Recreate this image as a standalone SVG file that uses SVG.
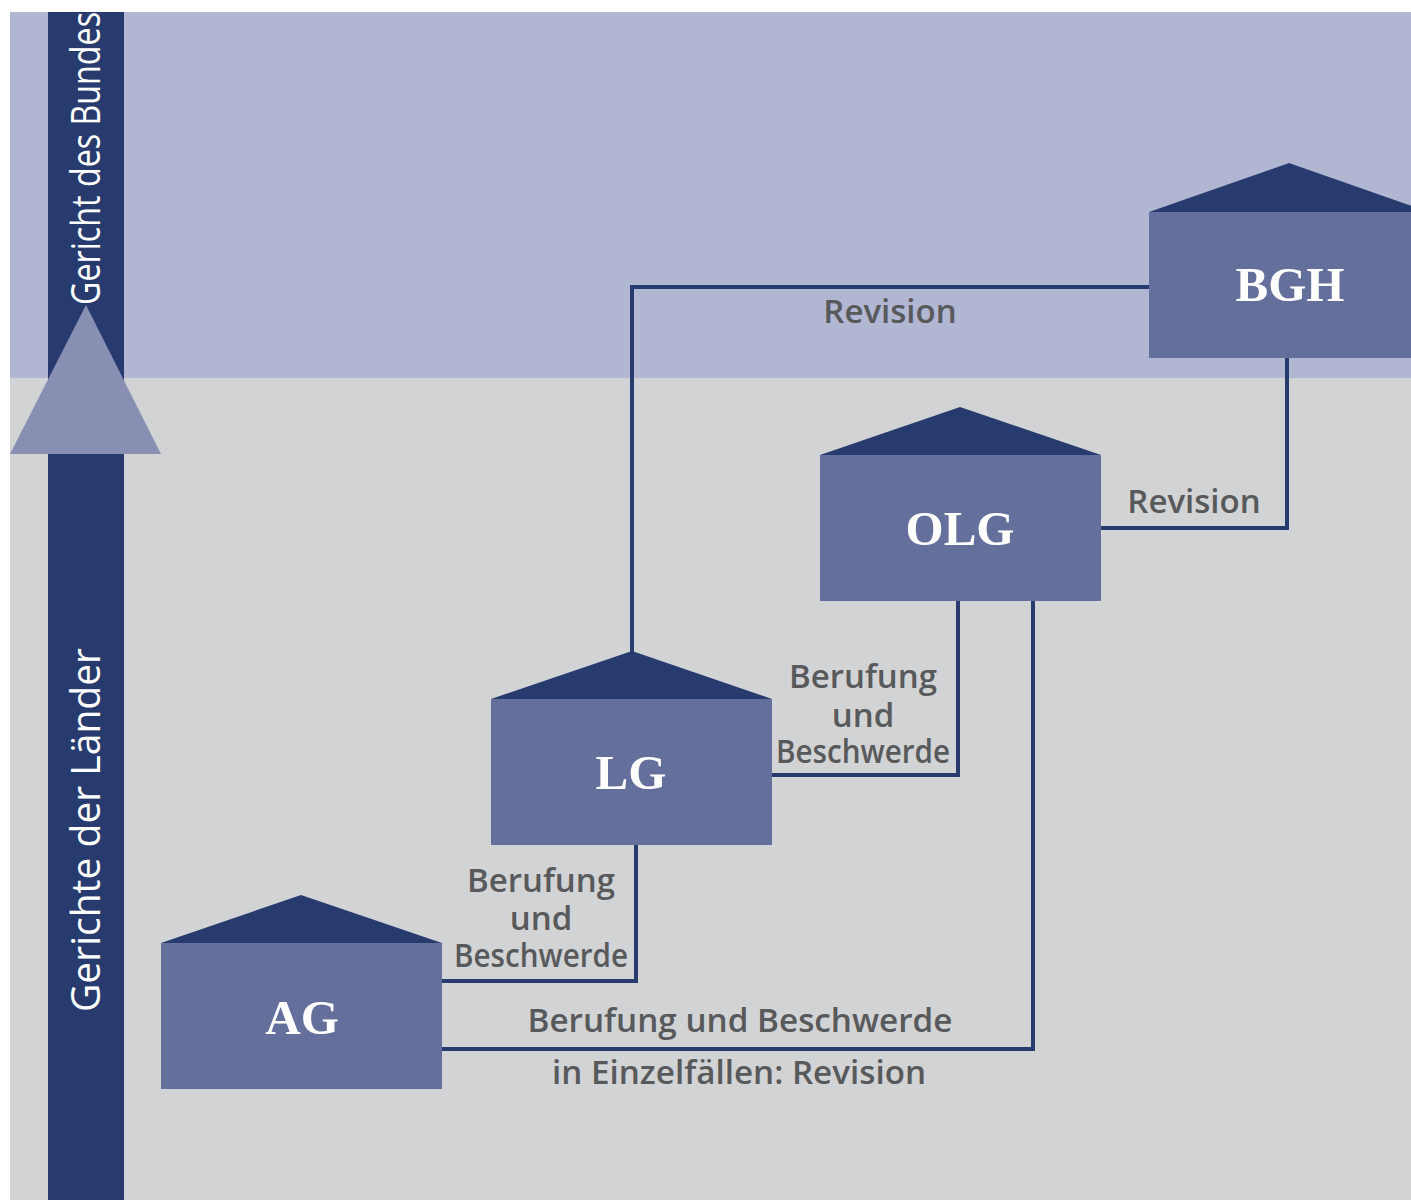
<svg xmlns="http://www.w3.org/2000/svg" width="1411" height="1200" viewBox="0 0 1411 1200">
<defs>
<style>
.roof{fill:#273b6f}
.body{fill:#646f9c}
.nl{font-family:"Liberation Serif","Times New Roman",serif;font-weight:bold;font-size:49px;fill:#ffffff;text-anchor:middle}
.lbl{font-family:"Open Sans","Noto Sans",sans-serif;font-weight:600;font-size:33px;fill:#58595b;text-anchor:middle}
.side{font-family:"Open Sans","Noto Sans",sans-serif;font-weight:400;font-size:40px;fill:#ffffff}
.conn{fill:none;stroke:#273b6f;stroke-width:4}
</style>
<clipPath id="clip"><rect x="10" y="12" width="1401" height="1188"/></clipPath>
</defs>
<rect x="0" y="0" width="1411" height="1200" fill="#ffffff"/>
<g clip-path="url(#clip)">
<rect x="10" y="12" width="1401" height="366" fill="#b1b6d2"/>
<rect x="10" y="378" width="1401" height="822" fill="#d2d3d5"/>
<g id="axis">
<rect x="48" y="12" width="76" height="1188" fill="#273b6f"/>
<polygon points="86,305 10,454 161,454" fill="#888fb2"/>
<text class="side" transform="translate(100,305) rotate(-90)" textLength="293" lengthAdjust="spacingAndGlyphs">Gericht des Bundes</text>
<text class="side" transform="translate(100,1012) rotate(-90)" textLength="364" lengthAdjust="spacingAndGlyphs">Gerichte der Länder</text>
</g>
<g id="connectors">
<polyline class="conn" points="632,652 632,287 1150,287"/>
<polyline class="conn" points="1287,357 1287,528 1100,528"/>
<polyline class="conn" points="958,600 958,775 771,775"/>
<polyline class="conn" points="636,844 636,981 441,981"/>
<polyline class="conn" points="1033,600 1033,1049 441,1049"/>
<text class="lbl" x="890" y="323">Revision</text>
<text class="lbl" x="1194" y="513">Revision</text>
<text class="lbl" x="863" y="688">Berufung</text>
<text class="lbl" x="863" y="727">und</text>
<text class="lbl" x="863" y="763" textLength="174" lengthAdjust="spacingAndGlyphs">Beschwerde</text>
<text class="lbl" x="541" y="892">Berufung</text>
<text class="lbl" x="541" y="930">und</text>
<text class="lbl" x="541" y="967" textLength="174" lengthAdjust="spacingAndGlyphs">Beschwerde</text>
<text class="lbl" x="740" y="1032" textLength="425" lengthAdjust="spacingAndGlyphs">Berufung und Beschwerde</text>
<text class="lbl" x="739" y="1084" textLength="374" lengthAdjust="spacingAndGlyphs">in Einzelfällen: Revision</text>
</g>
<g id="BGH">
<polygon class="roof" points="1289,163 1149,212 1429,212"/>
<rect class="body" x="1149" y="212" width="280" height="146"/>
<text class="nl" x="1290" y="301">BGH</text>
</g>
<g id="OLG">
<polygon class="roof" points="960,407 820,455 1101,455"/>
<rect class="body" x="820" y="455" width="281" height="146"/>
<text class="nl" x="960" y="545">OLG</text>
</g>
<g id="LG">
<polygon class="roof" points="632,651 491,699 772,699"/>
<rect class="body" x="491" y="699" width="281" height="146"/>
<text class="nl" x="631" y="789">LG</text>
</g>
<g id="AG">
<polygon class="roof" points="301,895 161,943 442,943"/>
<rect class="body" x="161" y="943" width="281" height="146"/>
<text class="nl" x="302" y="1034">AG</text>
</g>
</g>
</svg>
